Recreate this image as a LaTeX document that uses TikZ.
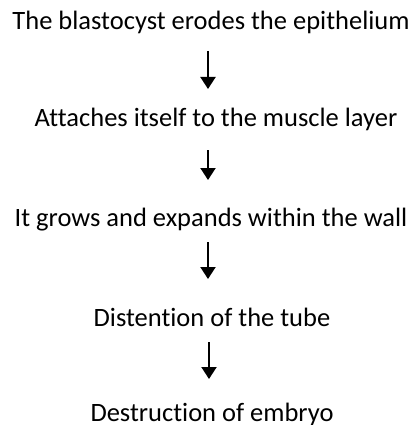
\documentclass[tikz,border=0pt]{standalone}
\usepackage{fontspec}
\setmainfont{Carlito}[Ligatures={NoCommon}]
\usetikzlibrary{arrows.meta}
\begin{document}
\begin{tikzpicture}[x=1pt,y=-1pt,
  lbl/.style={font=\fontsize{26.5}{30}\selectfont, inner sep=0pt, anchor=base},
  flow/.style={line width=2pt, -{Triangle[length=12pt,width=15pt]}}]
\useasboundingbox (0,0) rectangle (413,425);
\node[lbl] (t1) at (211,30) {The blastocyst erodes the epithelium};
\node[lbl] (t2) at (216,126) {Attaches itself to the muscle layer};
\node[lbl] (t3) at (211,226) {It grows and expands within the wall};
\node[lbl] (t4) at (212,326) {Distention of the tube};
\node[lbl] (t5) at (212,421) {Destruction of embryo};
\coordinate (a1s) at (208,51); \coordinate (a1e) at (208,89);
\coordinate (a2s) at (208,150); \coordinate (a2e) at (208,180);
\coordinate (a3s) at (208,242); \coordinate (a3e) at (208,279);
\coordinate (a4s) at (209,342); \coordinate (a4e) at (209,379);
\draw[flow] (a1s) -- (a1e);
\draw[flow] (a2s) -- (a2e);
\draw[flow] (a3s) -- (a3e);
\draw[flow] (a4s) -- (a4e);
\end{tikzpicture}
\end{document}
